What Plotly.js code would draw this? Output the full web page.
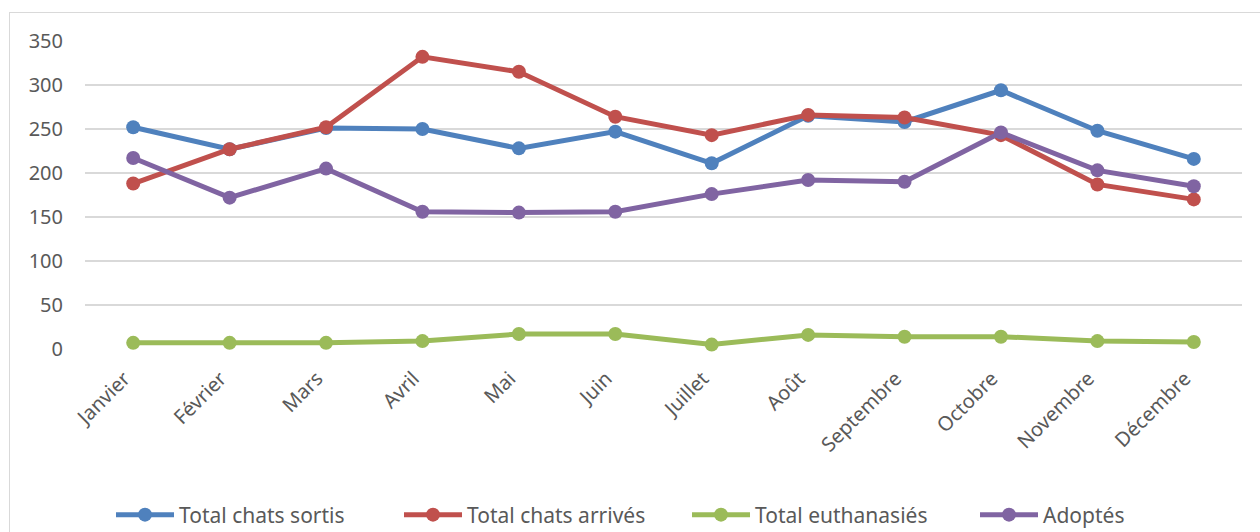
<!DOCTYPE html>
<html>
<head>
<meta charset="utf-8">
<script src="https://cdn.plot.ly/plotly-3.0.1.min.js"></script>
<style>
html,body{margin:0;padding:0;background:#fff;overflow:hidden;}
#frame{position:absolute;left:9px;top:12px;width:1300px;height:600px;border:1px solid #d9d9d9;box-sizing:border-box;}
#chart{position:absolute;left:0;top:0;width:1260px;height:532px;}
</style>
</head>
<body>
<div id="frame"></div>
<div id="chart"></div>
<script>
const months = ["Janvier","Février","Mars","Avril","Mai","Juin","Juillet","Août","Septembre","Octobre","Novembre","Décembre"];
const sortis = [252, 227, 251, 250, 228, 247, 211, 265, 258, 294, 248, 216];
const arrives = [188, 227, 252, 332, 315, 264, 243, 266, 263, 243, 187, 170];
const euthanasies = [7, 7, 7, 9, 17, 17, 5, 16, 14, 14, 9, 8];
const adoptes = [217, 172, 205, 156, 155, 156, 176, 192, 190, 246, 203, 185];
const yTicks = [0, 50, 100, 150, 200, 250, 300, 350];

const names = ["Total chats sortis","Total chats arrivés","Total euthanasiés","Adoptés"];
const colors = ["#4F81BD","#C0504D","#9BBB59","#8064A2"];
const series = [sortis, arrives, euthanasies, adoptes];

const data = series.map((s, i) => ({
  type: "scatter",
  mode: "lines+markers",
  x: months,
  y: s,
  name: names[i],
  line: {color: colors[i], width: 5},
  marker: {color: colors[i], size: 14},
  cliponaxis: false
}));

const layout = {
  width: 1260, height: 532,
  margin: {l: 85, r: 18, t: 41, b: 183},
  paper_bgcolor: "rgba(0,0,0,0)",
  plot_bgcolor: "rgba(0,0,0,0)",
  font: {family: "Noto Sans, Liberation Sans, sans-serif", color: "#595959", size: 19},
  showlegend: true,
  legend: {
    orientation: "h", x: 0.0881, xanchor: "left", xref: "container",
    y: 0.032, yanchor: "middle", yref: "container",
    font: {size: 21, color: "#595959"}, itemwidth: 58, traceorder: "normal",
    entrywidth: 215
  },
  xaxis: {
    type: "category", range: [-0.5, 11.5], tickangle: -45, showgrid: false, zeroline: false,
    automargin: false, showline: false, ticks: "", ticklabelstandoff: 13, ticklabelshift: -9,
    tickfont: {size: 20, color: "#595959"}
  },
  yaxis: {
    range: [0, 350], tickvals: yTicks, showgrid: true, gridcolor: "#d9d9d9", gridwidth: 1.5,
    zeroline: false, showline: false, ticks: "", ticklabelstandoff: 21, automargin: false,
    tickfont: {size: 20, color: "#595959"}
  }
};

Plotly.newPlot("chart", data, layout, {displayModeBar: false, staticPlot: true});
</script>
</body>
</html>
